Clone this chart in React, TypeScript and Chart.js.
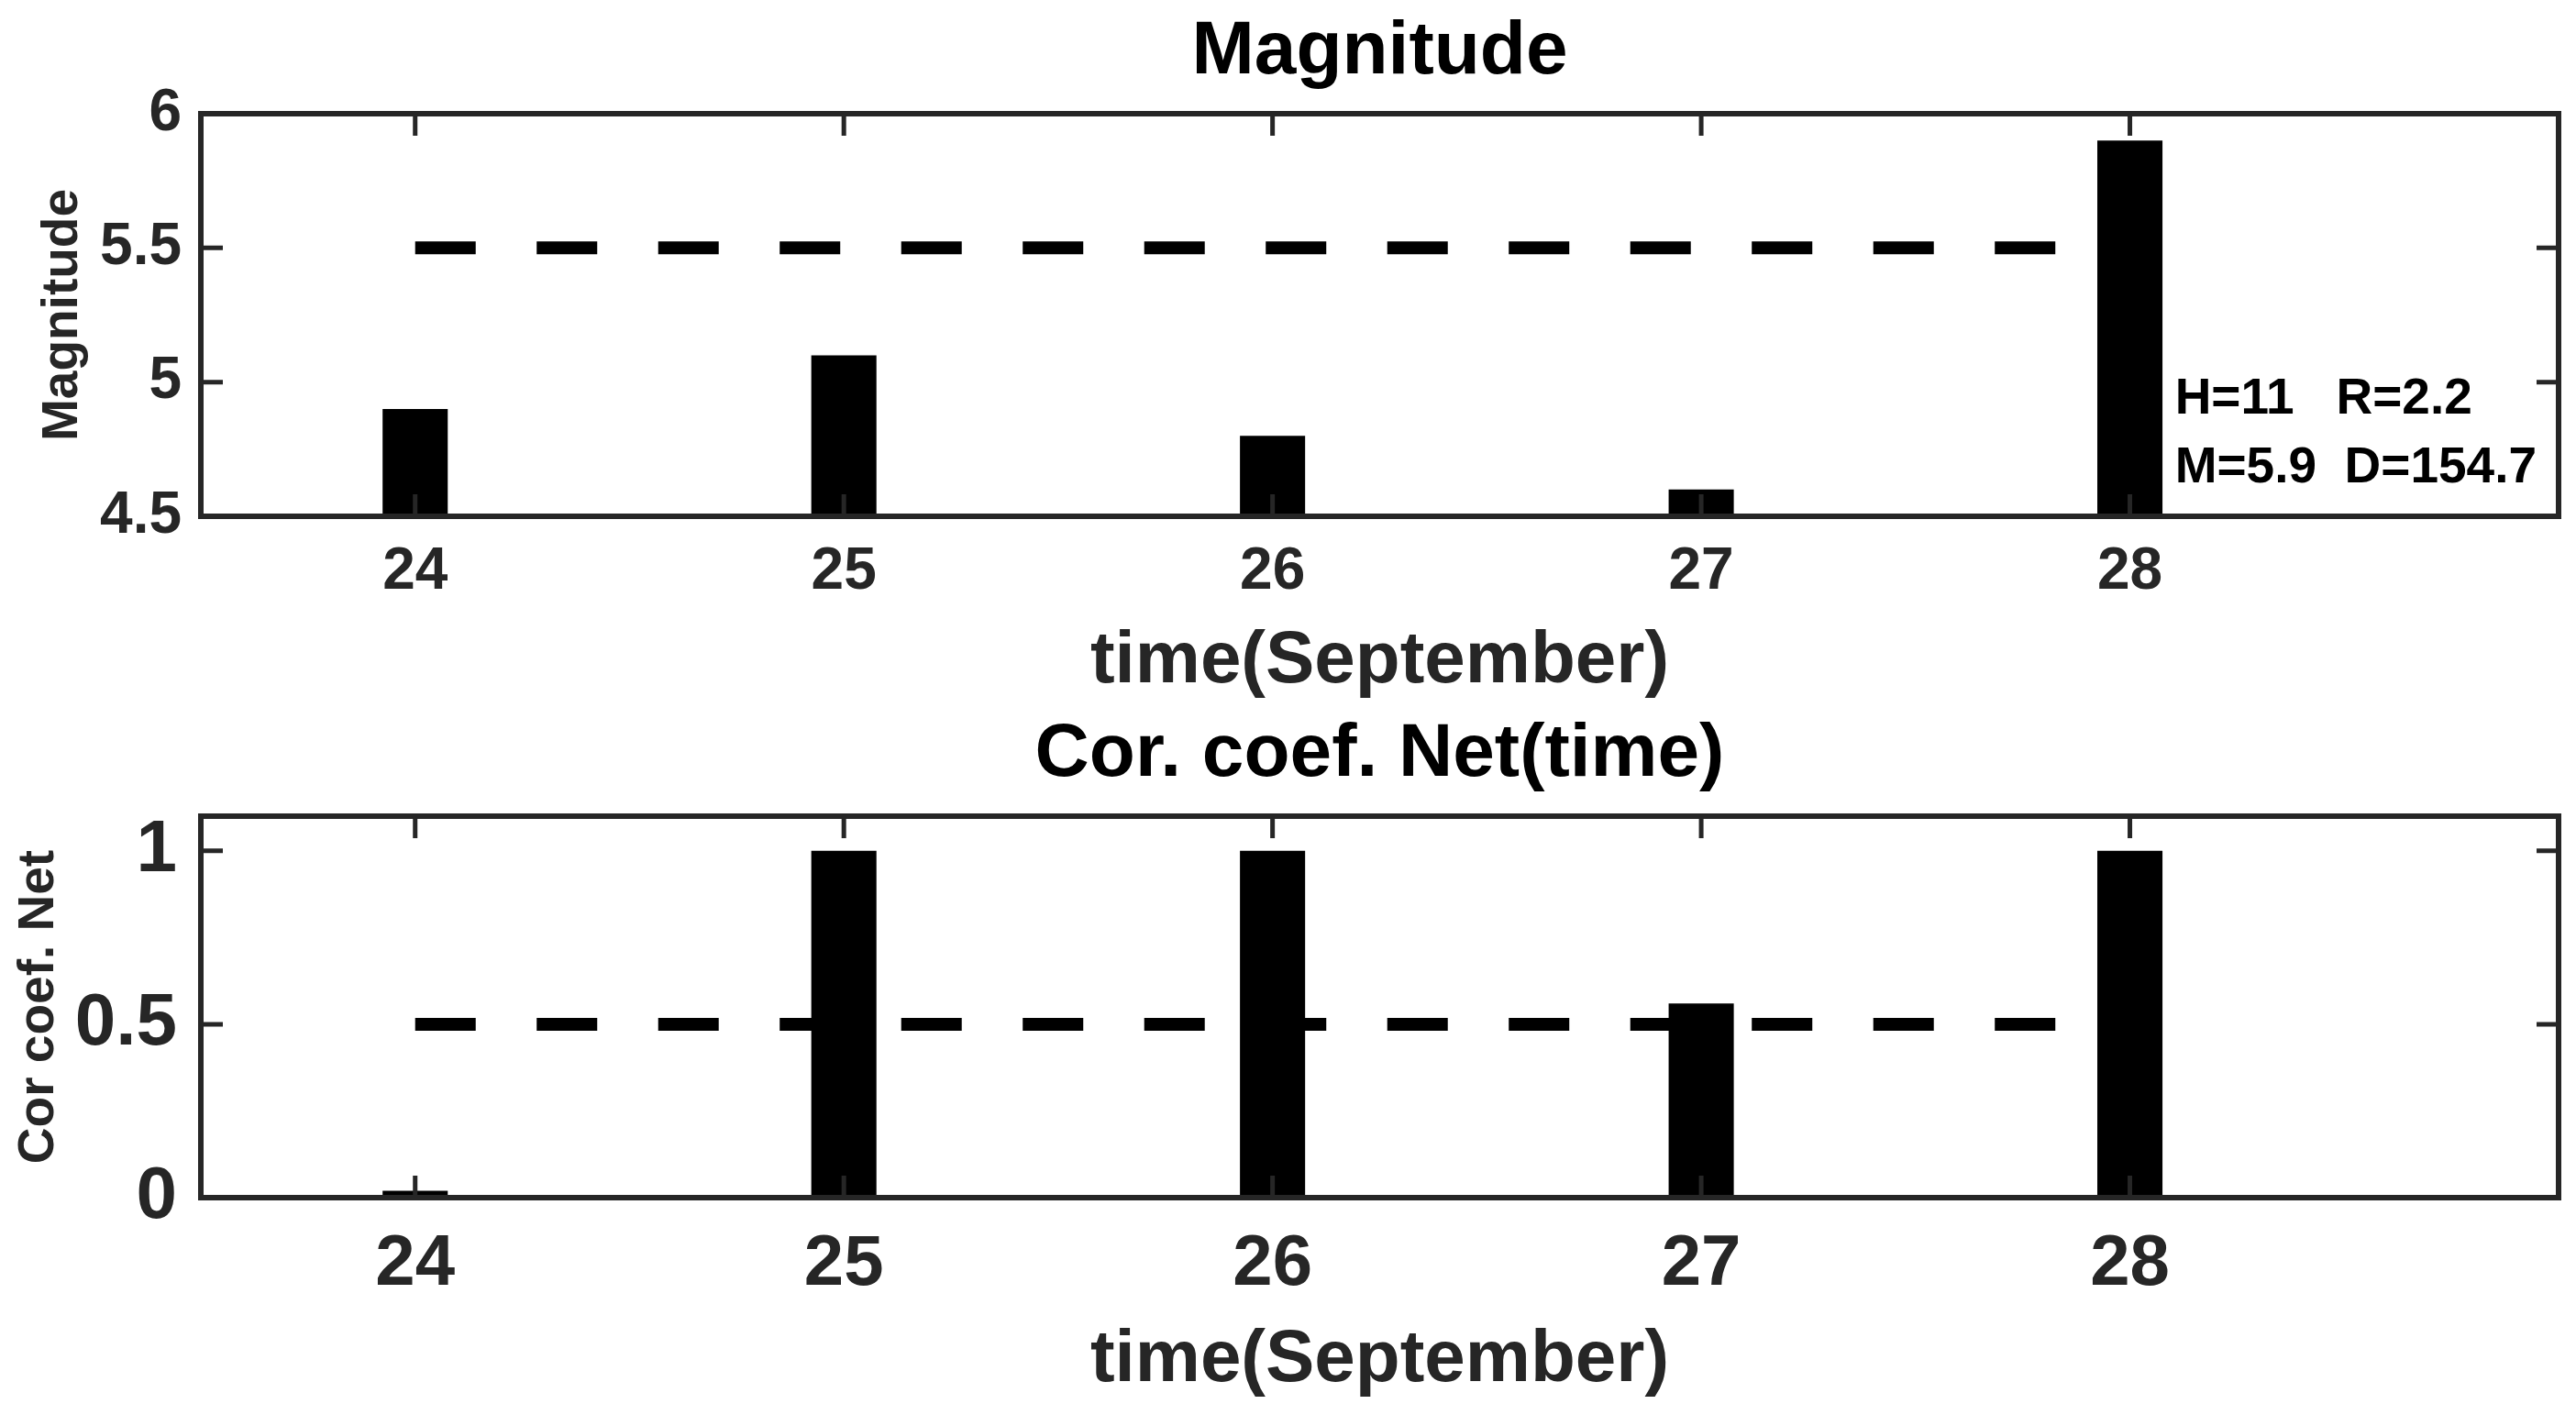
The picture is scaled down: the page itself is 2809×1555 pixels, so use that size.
import React, { useEffect, useRef } from 'react';
import { Chart, registerables } from 'chart.js';

Chart.register(...registerables);

// ---------- data ----------
const days = [24, 25, 26, 27, 28];
const magnitudeValues = [4.9, 5.1, 4.8, 4.6, 5.9];
const corCoefValues = [0.02, 1, 1, 0.56, 1];
const magnitudeThreshold = 5.5;
const corCoefThreshold = 0.5;
const thresholdDays = [24, 28];
const dayTicks = [24, 25, 26, 27, 28];
const magnitudeTicks = [4.5, 5, 5.5, 6];
const corCoefTicks = [0, 0.5, 1];
const statsLines = ['H=11   R=2.2', 'M=5.9  D=154.7'];
const statsAnchor = { x: 28.105, y: 4.884 };

// ---------- styles ----------
const FONT = "'Liberation Sans', Arial, Helvetica, sans-serif";
const AXIS_COLOR = '#262626';
const TICK_LEN = 24;

Chart.defaults.font.family = FONT;

const framePlugin = {
  id: 'matlabFrame',
  afterDatasetsDraw(chart: any) {
    const { ctx, chartArea, scales } = chart;
    const { left, right, top, bottom } = chartArea;
    const x = scales.x;
    const y = scales.y;
    ctx.save();
    ctx.strokeStyle = AXIS_COLOR;
    ctx.lineCap = 'butt';
    ctx.lineWidth = 5;
    ctx.beginPath();
    x.ticks.forEach((t: any) => {
      const px = x.getPixelForValue(t.value);
      ctx.moveTo(px, top);
      ctx.lineTo(px, top + TICK_LEN);
      ctx.moveTo(px, bottom);
      ctx.lineTo(px, bottom - TICK_LEN);
    });
    y.ticks.forEach((t: any) => {
      const py = y.getPixelForValue(t.value);
      ctx.moveTo(left, py);
      ctx.lineTo(left + TICK_LEN, py);
      ctx.moveTo(right, py);
      ctx.lineTo(right - TICK_LEN, py);
    });
    ctx.stroke();
    ctx.lineWidth = 6;
    ctx.lineJoin = 'miter';
    ctx.strokeRect(left, top, right - left, bottom - top);
    ctx.restore();
  },
};

const statsPlugin = {
  id: 'statsText',
  afterDatasetsDraw(chart: any) {
    const { ctx, scales } = chart;
    const px = scales.x.getPixelForValue(statsAnchor.x);
    const py = scales.y.getPixelForValue(statsAnchor.y);
    ctx.save();
    ctx.font = `bold 55px ${FONT}`;
    ctx.fillStyle = '#000';
    ctx.textAlign = 'left';
    ctx.textBaseline = 'alphabetic';
    statsLines.forEach((s, i) => ctx.fillText(s, px, py + i * 75));
    ctx.restore();
  },
};

type Panel = {
  title: string;
  titlePad: { top: number; bottom: number };
  values: number[];
  threshold: number;
  yMin: number;
  yMax: number;
  yTicks: number[];
  yLabel: string;
  yLabelPad: number;
  yTickSize: number;
  yTickPad: number;
  xTickSize: number;
  xTickPad: number;
  xAxisHeight: number;
  xLabelPad: number;
  stats: boolean;
};

const topPanel: Panel = {
  title: 'Magnitude',
  titlePad: { top: 8.4, bottom: 17.2 },
  values: magnitudeValues,
  threshold: magnitudeThreshold,
  yMin: 4.5,
  yMax: 6,
  yTicks: magnitudeTicks,
  yLabel: 'Magnitude',
  yLabelPad: 36,
  yTickSize: 64,
  yTickPad: 21,
  xTickSize: 64,
  xTickPad: 22.6,
  xAxisHeight: 207,
  xLabelPad: 0,
  stats: true,
};

const bottomPanel: Panel = {
  title: 'Cor. coef. Net(time)',
  titlePad: { top: 14.4, bottom: 17.2 },
  values: corCoefValues,
  threshold: corCoefThreshold,
  yMin: 0,
  yMax: 1.1,
  yTicks: corCoefTicks,
  yLabel: 'Cor coef. Net',
  yLabelPad: 10,
  yTickSize: 80,
  yTickPad: 26,
  xTickSize: 78,
  xTickPad: 26.2,
  xAxisHeight: 249,
  xLabelPad: 22.7,
  stats: false,
};

function makePanel(canvas: HTMLCanvasElement, p: Panel) {
  return new Chart(canvas, {
    type: 'bar',
    data: {
      datasets: [
        {
          type: 'bar',
          data: days.map((d, i) => ({ x: d, y: p.values[i] })),
          backgroundColor: '#000',
          borderWidth: 0,
          barPercentage: 0.152,
          categoryPercentage: 1,
          order: 0,
        } as any,
        {
          type: 'line',
          data: thresholdDays.map((d) => ({ x: d, y: p.threshold })),
          borderColor: '#000',
          borderWidth: 14,
          borderDash: [66, 66.5],
          borderCapStyle: 'butt',
          pointRadius: 0,
          fill: false,
          order: 1,
        } as any,
      ],
    },
    options: {
      responsive: false,
      maintainAspectRatio: false,
      animation: false,
      devicePixelRatio: 1,
      layout: { padding: { left: 0, right: 19, top: 0, bottom: 0 } },
      plugins: {
        legend: { display: false },
        tooltip: { enabled: false },
        title: {
          display: true,
          fullSize: false,
          align: 'center',
          text: p.title,
          color: '#000',
          font: { family: FONT, size: 82, weight: 'bold' },
          padding: p.titlePad,
        },
      },
      scales: {
        x: {
          type: 'linear',
          min: 23.5,
          max: 29,
          offset: false,
          grid: { display: false, drawTicks: false },
          border: { display: false },
          afterBuildTicks: (s: any) => {
            s.ticks = dayTicks.map((v) => ({ value: v }));
          },
          afterFit: (s: any) => {
            s.height = p.xAxisHeight;
          },
          ticks: {
            color: AXIS_COLOR,
            font: { family: FONT, size: p.xTickSize, weight: 'bold' },
            padding: p.xTickPad,
            maxRotation: 0,
            autoSkip: false,
            callback: (v: any) => String(v),
          },
          title: {
            display: true,
            text: 'time(September)',
            color: AXIS_COLOR,
            font: { family: FONT, size: 80, weight: 'bold' },
            padding: { top: 0, bottom: p.xLabelPad },
          },
        },
        y: {
          type: 'linear',
          min: p.yMin,
          max: p.yMax,
          grid: { display: false, drawTicks: false },
          border: { display: false },
          afterBuildTicks: (s: any) => {
            s.ticks = p.yTicks.map((v) => ({ value: v }));
          },
          afterFit: (s: any) => {
            s.width = 219;
          },
          ticks: {
            color: AXIS_COLOR,
            font: { family: FONT, size: p.yTickSize, weight: 'bold' },
            padding: p.yTickPad,
            autoSkip: false,
            callback: (v: any) => String(v),
          },
          title: {
            display: true,
            text: p.yLabel,
            color: AXIS_COLOR,
            font: { family: FONT, size: 55, weight: 'bold' },
            padding: { top: p.yLabelPad, bottom: 0 },
          },
        },
      },
    } as any,
    plugins: p.stats ? [framePlugin, statsPlugin] : [framePlugin],
  });
}

export default function App() {
  const topRef = useRef<HTMLCanvasElement>(null);
  const bottomRef = useRef<HTMLCanvasElement>(null);

  useEffect(() => {
    const c1 = makePanel(topRef.current as HTMLCanvasElement, topPanel);
    const c2 = makePanel(bottomRef.current as HTMLCanvasElement, bottomPanel);
    return () => {
      c1.destroy();
      c2.destroy();
    };
  }, []);

  return (
    <div
      style={{
        position: 'fixed',
        left: 0,
        top: 0,
        width: 2809,
        height: 1555,
        background: '#fff',
        overflow: 'hidden',
      }}
    >
      <canvas
        ref={topRef}
        width={2809}
        height={770}
        style={{ position: 'absolute', left: 0, top: 0, width: 2809, height: 770 }}
      />
      <canvas
        ref={bottomRef}
        width={2809}
        height={795}
        style={{ position: 'absolute', left: 0, top: 760, width: 2809, height: 795 }}
      />
    </div>
  );
}
